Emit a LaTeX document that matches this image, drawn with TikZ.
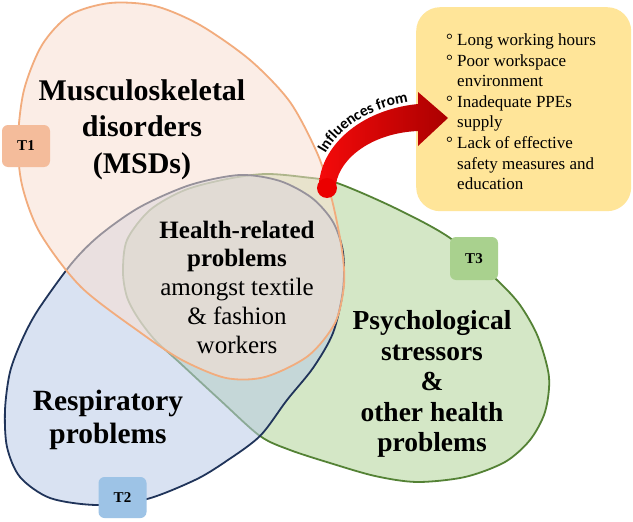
\documentclass[tikz,border=0pt]{standalone}
\usepackage{fontspec}
\setmainfont{Liberation Serif}
\newfontfamily\calfont{Carlito}
\usetikzlibrary{decorations.text}
\definecolor{ofill}{RGB}{249,224,210}
\definecolor{oline}{RGB}{242,172,125}
\definecolor{bfill}{RGB}{186,203,232}
\definecolor{bline}{RGB}{32,52,90}
\definecolor{gfill}{RGB}{178,213,152}
\definecolor{gline}{RGB}{84,130,53}
\definecolor{tonefill}{RGB}{244,188,155}
\definecolor{ttwofill}{RGB}{157,195,230}
\definecolor{tthreefill}{RGB}{169,209,142}
\definecolor{boxfill}{RGB}{255,229,153}
\definecolor{arrowlight}{RGB}{245,10,10}
\definecolor{arrowdark}{RGB}{170,0,0}
\newcommand{\lbul}{\makebox[11pt][l]{°}}
\newcommand{\lind}{\hspace*{11pt}}
\begin{document}
\begin{tikzpicture}[x=1pt,y=-1pt,
  region/.style={line width=1.8pt, fill opacity=0.55},
  tbox/.style={rounded corners=6pt, minimum width=48pt, minimum height=42pt,
     font=\bfseries\fontsize{15}{18}\selectfont, inner sep=0pt},
  biglabel/.style={align=center, inner sep=0pt}]
\useasboundingbox (0,0) rectangle (633,522);
\fill[white] (0,0) rectangle (633,522);

% green (T3)
\draw[region, draw=gline, fill=gfill] plot[smooth cycle] coordinates {
 (123,272) (127,240) (150,210) (185,190) (227,179) (265,174) (303,177) (337,183)
 (395,208) (450,238) (497,280) (520,305) (538,337) (549,377) (545,412) (530,440)
 (505,462) (465,477) (417,482) (375,476) (330,463) (290,450) (260,436) (220,400)
 (180,363) (155,340) (138,318) (127,297)};
% blue (T2)
\draw[region, draw=bline, fill=bfill] plot[smooth cycle] coordinates {
 (240,175) (280,181) (312,198) (333,222) (343,252) (343,290) (333,333) (313,368)
 (287,400) (260,436) (225,462) (195,480) (147,499) (97,505) (50,498) (20,477)
 (7,447) (5,410) (10,372) (22,340) (38,310) (72,263) (100,235) (140,207) (190,185)};
% orange (T1)
\draw[region, draw=oline, fill=ofill] plot[smooth cycle] coordinates {
 (110,3) (155,6) (200,25) (250,60) (290,102) (318,155) (332,200) (342,250)
 (344,285) (335,323) (308,356) (265,377) (226,378) (182,360) (141,333) (81,287)
 (40,233) (22,185) (18,140) (24,90) (42,45) (70,15)};

% T boxes
\node[tbox, fill=tonefill] (t1) at (26,146) {T1};
\node[tbox, fill=ttwofill, minimum height=41pt] (t2) at (122.5,497.5) {T2};
\node[tbox, fill=tthreefill, minimum height=43pt] (t3) at (474,258.5) {T3};

% labels
\node[biglabel, font=\bfseries\fontsize{30}{36.5}\selectfont] (msd) at (142,129.5)
  {Musculoskeletal\\disorders\\(MSDs)};
\node[biglabel, font=\fontsize{25}{28.75}\selectfont] (hrp) at (237,287)
  {\textbf{Health-related}\\\textbf{problems}\\amongst textile\\\& fashion\\workers};
\node[biglabel, font=\bfseries\fontsize{29.4}{33}\selectfont] (resp) at (108,420)
  {Respiratory\\problems};
\node[biglabel, font=\bfseries\fontsize{27.5}{30.5}\selectfont] (psy) at (432,384)
  {Psychological\\stressors\\\&\\other health\\problems};

% yellow box with list
\node[fill=boxfill, rounded corners=24pt, minimum width=215pt, minimum height=204pt,
      anchor=north west, inner sep=0pt] (box) at (416,7) {};
\node[anchor=north west, align=left, inner sep=0pt,
      font=\fontsize{17}{20.6}\selectfont] (list) at (446,33.5)
  {\lbul Long working hours\\\lbul Poor workspace\\\lind environment\\
   \lbul Inadequate PPEs\\\lind supply\\\lbul Lack of effective\\
   \lind safety measures and\\\lind education};

% red arrow
\coordinate (dot) at (327,188);
\shade[left color=arrowlight, right color=arrowdark]
  (319,186) .. controls (320,148) and (358,110) .. (418,104)
  -- (418,92) -- (448,118) -- (418,146) -- (418,131)
  .. controls (372,133) and (340,158) .. (336,184) -- cycle;
\fill[red!92!black] (dot) circle (10pt);
\path[decorate, decoration={text along path,
   text={|\calfont\bfseries\fontsize{15.5}{15.5}\selectfont|Influences from},
   text align={left indent=34pt}}]
  (316,186) .. controls (317,146) and (356,107) .. (418,101);
\end{tikzpicture}
\end{document}
